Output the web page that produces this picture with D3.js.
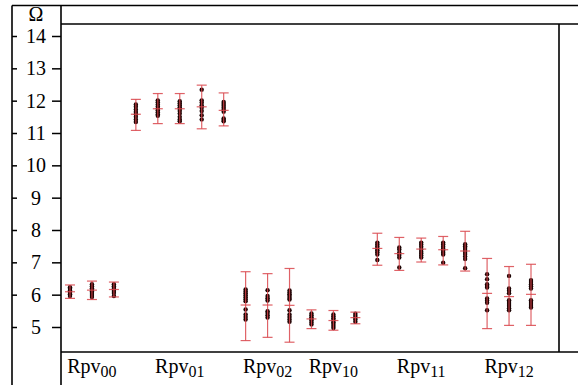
<!DOCTYPE html>
<html><head><meta charset="utf-8">
<script src="https://cdn.jsdelivr.net/npm/d3@7"></script>
<style>body{margin:0;background:#fff}svg{display:block}</style>
</head><body>
<svg id="c" width="578" height="385"></svg>
<script>
const groups = ["00","01","02","10","11","12"];
const barsPerGroup = [3,5,3,3,5,3];
const yTicks = [5,6,7,8,9,10,11,12,13,14];
const unitLabel = "Ω";
const means = [6.09,6.14,6.16, 11.58,11.75,11.75,11.81,11.70, 5.68,5.68,5.67, 5.25,5.20,5.29, 7.43,7.27,7.41,7.39,7.35, 6.04,5.94,6.01];
const lows  = [5.885,5.85,5.93, 11.08,11.29,11.29,11.13,11.22, 4.58,4.68,4.53, 4.95,4.90,5.10, 6.91,6.75,7.01,6.92,6.73, 4.95,5.05,5.05];
const highs = [6.30,6.42,6.39, 12.04,12.22,12.22,12.48,12.24, 6.71,6.65,6.81, 5.53,5.51,5.46, 7.90,7.77,7.75,7.80,7.96, 7.12,6.87,6.94];
const points = [
  [6.23,6.18,6.13,6.09,6.05,6.01,5.96],
  [6.32,6.26,6.20,6.15,6.10,6.05,5.99,5.93],
  [6.32,6.26,6.21,6.16,6.11,6.05,5.96],
  [11.88,11.81,11.73,11.65,11.58,11.50,11.42,11.34],
  [12.01,11.95,11.88,11.82,11.76,11.70,11.64,11.58,11.53],
  [11.98,11.92,11.86,11.80,11.74,11.68,11.60,11.50,11.42,11.36],
  [12.34,12.01,11.94,11.86,11.78,11.68,11.55,11.42],
  [11.96,11.90,11.84,11.78,11.72,11.66,11.45,11.40,11.36],
  [6.16,6.10,6.04,5.98,5.92,5.86,5.80,5.54,5.39,5.31,5.23],
  [6.14,5.96,5.89,5.82,5.49,5.43,5.36,5.29],
  [6.13,6.07,6.01,5.96,5.90,5.85,5.52,5.39,5.31,5.23,5.16],
  [5.42,5.36,5.30,5.25,5.20,5.14,5.08],
  [5.39,5.33,5.27,5.21,5.15,5.09,5.03,4.97],
  [5.41,5.35,5.29,5.23,5.16],
  [7.61,7.55,7.49,7.43,7.37,7.31,7.24,7.07],
  [7.46,7.40,7.30,7.23,7.15,6.84],
  [7.61,7.55,7.48,7.40,7.33,7.27,7.21,7.15],
  [7.61,7.55,7.48,7.42,7.36,7.30,7.24,6.99],
  [7.56,7.50,7.44,7.38,7.32,7.26,7.18,7.10,6.82],
  [6.63,6.48,6.32,6.27,6.22,5.88,5.82,5.75,5.52],
  [6.58,6.19,6.12,6.04,5.83,5.77,5.71,5.65,5.58,5.52],
  [6.45,6.39,6.32,6.26,6.19,5.83,5.77,5.71,5.65,5.60]
];
const SERIF = "'Liberation Serif', 'DejaVu Serif', 'Times New Roman', Times, serif";

const bars = [];
groups.forEach((g,gi)=>{ for(let k=0;k<barsPerGroup[gi];k++) bars.push({g, k, key:g+"-"+k}); });
bars.forEach((b,i)=>{ b.mean=means[i]; b.lo=lows[i]; b.hi=highs[i]; b.pts=points[i]; });

const svg = d3.select("#c");
const x = d3.scalePoint().domain(bars.map(b=>b.key)).range([70,531]);
const y = d3.scaleLinear().domain([5,14]).range([327,36]);

const frame = svg.append("g").attr("stroke","#000").attr("stroke-width",1.6).attr("fill","none");
[[12,5.5,578,5.5],[12,5.5,12,385],[61,5.5,61,385],[61,24,578,24],[559,24,559,352],[61,352,578,352]]
  .forEach(l=>frame.append("line").attr("x1",l[0]).attr("y1",l[1]).attr("x2",l[2]).attr("y2",l[3]));

svg.append("text").attr("x",36).attr("y",21).attr("text-anchor","middle")
  .style("font-family",SERIF).style("font-size","20px").text(unitLabel);

const ya = svg.append("g").attr("transform","translate(61,0)")
  .call(d3.axisLeft(y).tickValues(yTicks).tickSize(9).tickFormat(d3.format("d")));
ya.select(".domain").remove();
ya.selectAll("line").attr("stroke","#000").attr("stroke-width",1.5);
ya.selectAll("text").attr("x",-25).attr("text-anchor","middle").attr("fill","#000")
  .style("font-family",SERIF).style("font-size","20px");
const yb = svg.append("g").attr("transform","translate(12,0)")
  .call(d3.axisRight(y).tickValues(yTicks).tickSize(5).tickFormat(""));
yb.select(".domain").remove();
yb.selectAll("line").attr("stroke","#000").attr("stroke-width",1.5);

const pg = svg.append("g");
bars.forEach(b=>{
  pg.selectAll(null).data(b.pts).enter().append("circle")
    .attr("cx",x(b.key)).attr("cy",d=>y(d)).attr("r",2.2).attr("fill","#1c0303");
});

const eg = svg.append("g").attr("stroke","#d9474c").attr("stroke-opacity",0.85).attr("stroke-width",1.2);
const cw = 5;
bars.forEach(b=>{
  const cx = x(b.key);
  eg.append("line").attr("x1",cx).attr("x2",cx).attr("y1",y(b.lo)).attr("y2",y(b.hi));
  [b.lo,b.hi,b.mean].forEach(v=>eg.append("line").attr("x1",cx-cw).attr("x2",cx+cw).attr("y1",y(v)).attr("y2",y(v)));
});

groups.forEach((g,gi)=>{
  const members = bars.filter(b=>b.g===g);
  const mid = members[Math.floor(members.length/2)];
  const t = svg.append("text").attr("x",x(mid.key)).attr("y",373).attr("text-anchor","middle")
    .style("font-family",SERIF).style("font-size","20px").attr("fill","#000");
  t.append("tspan").text("Rpv");
  t.append("tspan").style("font-size","16px").attr("dy",4).text(g);
});
</script>
</body></html>
